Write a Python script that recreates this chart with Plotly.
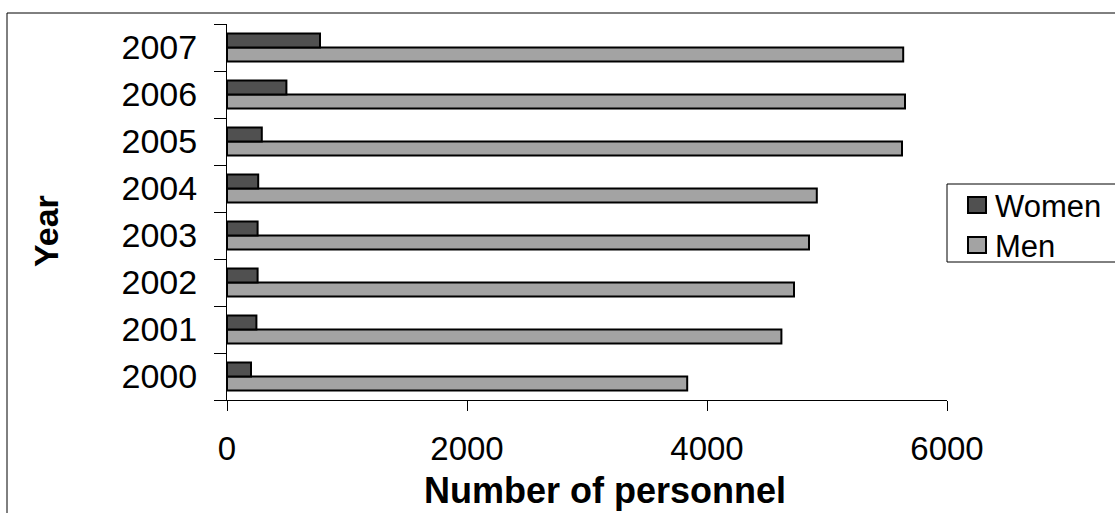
import plotly.graph_objects as go

years = ["2000", "2001", "2002", "2003", "2004", "2005", "2006", "2007"]
women = [200, 245, 255, 255, 260, 290, 495, 775]
men = [3835, 4620, 4725, 4850, 4915, 5625, 5650, 5635]
series_names = ["Women", "Men"]
series_colors = ["#505050", "#a3a3a3"]

W, H = 1115, 513
L, R, T, B = 227, 947, 24, 400

def px(x):
    return (x - L) / (R - L)

def py(y):
    return (B - y) / (B - T)

FONT = "Liberation Sans, Arial, sans-serif"

fig = go.Figure()
fig.add_trace(go.Bar(y=years, x=men, orientation="h", name="Men",
                     marker=dict(color=series_colors[1], line=dict(color="black", width=2))))
fig.add_trace(go.Bar(y=years, x=women, orientation="h", name="Women",
                     marker=dict(color=series_colors[0], line=dict(color="black", width=2))))

shapes = [
    dict(type="line", xref="paper", yref="paper", x0=px(7), x1=px(1115), y0=py(13), y1=py(13),
         line=dict(color="black", width=1)),
    dict(type="line", xref="paper", yref="paper", x0=px(7), x1=px(7), y0=py(13), y1=py(513),
         line=dict(color="black", width=1)),
    # legend box
    dict(type="rect", xref="paper", yref="paper", x0=px(947), x1=px(1117), y0=py(184), y1=py(262),
         line=dict(color="black", width=1), fillcolor="white"),
]
annotations = [
    dict(text="<b>Number of personnel</b>", xref="paper", yref="paper",
         x=px(605), y=py(490), xanchor="center", yanchor="middle", showarrow=False,
         font=dict(size=36, family=FONT)),
    dict(text="<b>Year</b>", xref="paper", yref="paper", textangle=-90,
         x=px(46), y=py(231), xanchor="center", yanchor="middle", showarrow=False,
         font=dict(size=34, family=FONT)),
]
for i, (name, col) in enumerate(zip(series_names, series_colors)):
    cy = 205 + 40 * i
    shapes.append(dict(type="rect", xref="paper", yref="paper", x0=px(968), x1=px(986),
                       y0=py(cy - 8), y1=py(cy + 8), fillcolor=col,
                       line=dict(color="black", width=2)))
    annotations.append(dict(text=name, xref="paper", yref="paper", x=px(993), y=py(cy + 1),
                            xanchor="left", yanchor="middle", showarrow=False,
                            font=dict(size=31, family=FONT)))

fig.update_layout(
    width=W, height=H,
    margin=dict(l=L, r=W - R, t=T, b=H - B, pad=0),
    paper_bgcolor="white", plot_bgcolor="white",
    barmode="group", bargap=0.40, bargroupgap=0,
    font=dict(family=FONT, color="black"),
    showlegend=False,
    xaxis=dict(range=[0, 6000], dtick=2000, tick0=0, showgrid=False, zeroline=False,
               showline=True, linecolor="black", linewidth=1,
               ticks="outside", ticklen=10, tickcolor="black",
               tickfont=dict(size=33, family=FONT), ticklabelstandoff=9),
    yaxis=dict(type="category", categoryorder="array", categoryarray=years,
               showgrid=False, zeroline=False,
               showline=True, linecolor="black", linewidth=1,
               ticks="outside", ticklen=12, tickcolor="black", tickson="boundaries",
               tickfont=dict(size=34, family=FONT), ticklabelstandoff=22),
    annotations=annotations,
    shapes=shapes,
)

fig.write_html("out.html")
